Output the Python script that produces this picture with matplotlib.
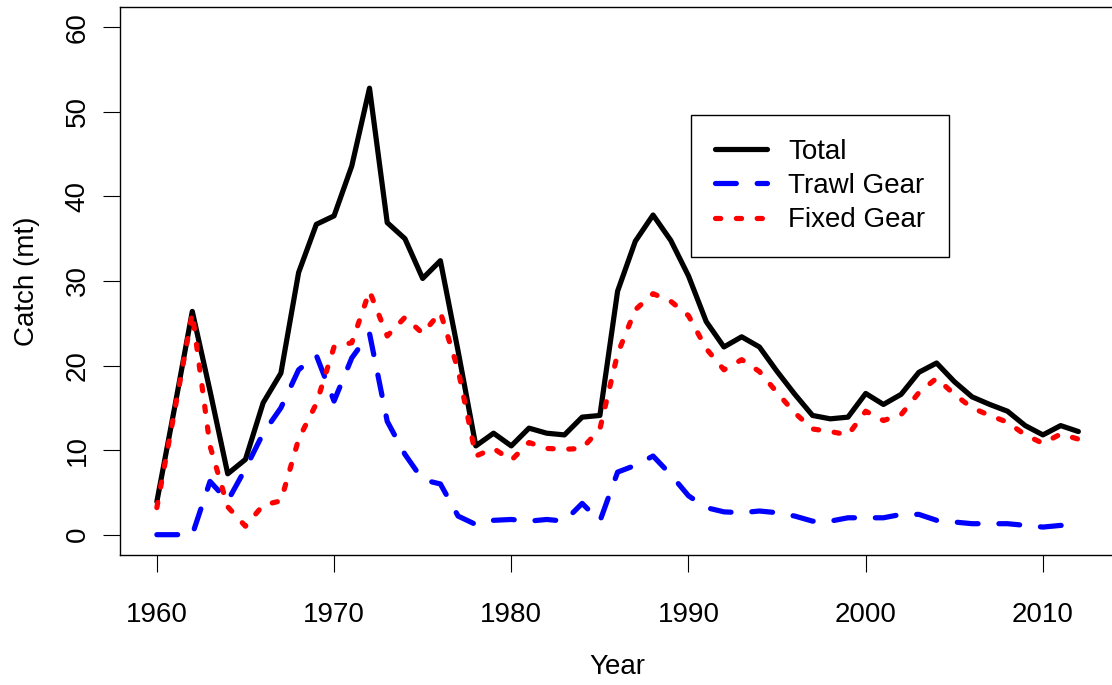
import numpy as np
import matplotlib
matplotlib.use("Agg")
import matplotlib.pyplot as plt

plt.rcParams['font.family'] = ['Liberation Sans', 'DejaVu Sans']

# catch by year
years = list(range(1960, 2013))
total = [3.9, 15.0, 26.4, 17.0, 7.2, 8.9, 15.6, 19.1, 31.0, 36.7,
         37.7, 43.6, 52.8, 36.9, 35.0, 30.3, 32.4, 21.7, 10.5, 12.0,
         10.5, 12.6, 12.0, 11.8, 13.9, 14.1, 28.8, 34.7, 37.8, 34.8,
         30.6, 25.2, 22.2, 23.4, 22.2, 19.3, 16.6, 14.1, 13.7, 13.9,
         16.7, 15.4, 16.6, 19.2, 20.3, 18.1, 16.3, 15.4, 14.6, 12.9,
         11.8, 12.9, 12.2]
trawl = [0.0, 0.0, 0.0, 6.3, 4.0, 7.8, 12.0, 15.0, 19.5, 21.2,
         15.8, 20.9, 23.8, 13.4, 9.5, 6.5, 6.0, 2.2, 1.2, 1.7,
         1.8, 1.6, 1.8, 1.6, 3.7, 1.6, 7.4, 8.2, 9.3, 7.1,
         4.6, 3.2, 2.7, 2.6, 2.8, 2.6, 2.2, 1.6, 1.6, 2.0,
         2.0, 2.0, 2.4, 2.4, 1.7, 1.5, 1.3, 1.3, 1.3, 1.1,
         0.9, 1.1, 0.8]
fixed = [3.2, 14.6, 26.2, 10.5, 3.3, 1.0, 3.5, 4.0, 11.3, 15.5,
         22.2, 22.7, 28.8, 23.5, 25.7, 23.8, 26.3, 19.5, 9.3, 10.2,
         8.8, 10.9, 10.2, 10.1, 10.2, 12.5, 21.4, 26.6, 28.5, 27.6,
         25.9, 22.0, 19.5, 20.7, 19.3, 16.8, 14.4, 12.5, 12.2, 11.8,
         14.6, 13.5, 14.2, 16.8, 18.5, 16.6, 15.0, 14.1, 13.3, 11.8,
         10.8, 11.9, 11.3]
xticks = [1960, 1970, 1980, 1990, 2000, 2010]
yticks = [0, 10, 20, 30, 40, 50, 60]

fig = plt.figure(figsize=(11.12, 6.85), dpi=100)
ax = fig.add_axes([0.1079, 0.1898, 0.8950, 0.8000])

lw = 3.75
ax.plot(years, total, color="black", lw=lw, solid_capstyle="round",
        solid_joinstyle="round", label="Total")
ax.plot(years, trawl, color="blue", lw=lw, linestyle=(0, (4, 4)),
        dash_capstyle="round", dash_joinstyle="round", label="Trawl Gear")
ax.plot(years, fixed, color="red", lw=lw, linestyle=(0, (1, 3)),
        dash_capstyle="round", dash_joinstyle="round", label="Fixed Gear")

# R style: 4% padding round the data range
ax.set_xlim(1960 - 0.04 * 52, 2012 + 0.04 * 52)
ax.set_ylim(-0.04 * 60, 60 * 1.04)
ax.set_xticks(xticks)
ax.set_yticks(yticks)
ax.tick_params(axis="both", direction="out", length=12.5, width=0.8,
               labelsize=20)
ax.tick_params(axis="x", pad=21)
ax.tick_params(axis="y", pad=8.5)
for lab in ax.get_yticklabels():
    lab.set_rotation(90)
    lab.set_va("center")
for s in ax.spines.values():
    s.set_linewidth(1.0)

ax.set_xlabel("Year", fontsize=20, va="center")
ax.xaxis.set_label_coords(0.5, -0.205)
ax.set_ylabel("Catch (mt)", fontsize=20, va="center")
ax.yaxis.set_label_coords(-0.093, 0.5)

leg = ax.legend(loc="upper left", bbox_to_anchor=(0.6214, 0.8321),
                bbox_transform=fig.transFigure, borderaxespad=0,
                fontsize=20, handlelength=1.9, handletextpad=0.75,
                labelspacing=0.3, borderpad=0.85, fancybox=False,
                framealpha=1, edgecolor="black")
leg.get_frame().set_linewidth(1.0)

fig.savefig("out.png", dpi=100)
